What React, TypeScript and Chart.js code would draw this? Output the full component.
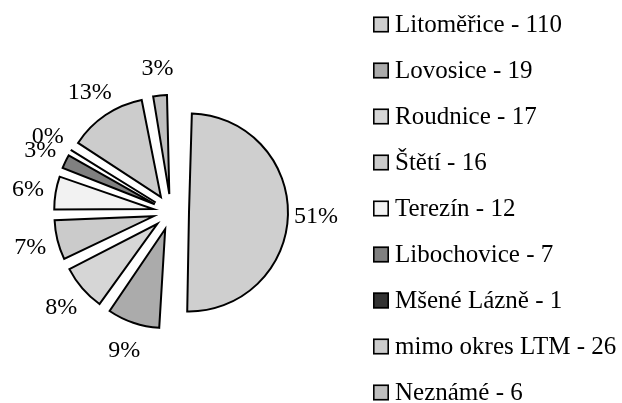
import React, { useEffect, useRef } from "react";
import { Chart, registerables } from "chart.js";

Chart.register(...registerables);

const categories = [
  "Litoměřice",
  "Lovosice",
  "Roudnice",
  "Štětí",
  "Terezín",
  "Libochovice",
  "Mšené Lázně",
  "mimo okres LTM",
  "Neznámé",
];
// counts shown in the legend
const counts = [110, 19, 17, 16, 12, 7, 1, 26, 6];
// slice sizes as drawn in the picture (percent)
const sliceShares = [51, 9, 8, 7, 6, 3, 0.5, 13, 3];
const percentLabels = ["51%", "9%", "8%", "7%", "6%", "3%", "0%", "13%", "3%"];
const sliceColors = [
  "#cfcfcf",
  "#ababab",
  "#d6d6d6",
  "#cbcbcb",
  "#f2f2f2",
  "#808080",
  "#333333",
  "#cccccc",
  "#bfbfbf",
];

const FONT = '"Liberation Serif", "Times New Roman", serif';
const RADIUS = 99;
const OFFSET = 72; // Chart.js translates by offset/4

const equalRadiusPlugin = {
  id: "equalRadius",
  afterDatasetsUpdate(chart: any) {
    const meta = chart.getDatasetMeta(0);
    meta.data.forEach((el: any) => {
      const c = el.circumference;
      const fix = 1 - Math.sin(Math.min(Math.PI, c || 0));
      el.outerRadius = RADIUS - (OFFSET / 4) * fix;
    });
  },
};

const pctLabelPlugin = {
  id: "pctLabels",
  afterDatasetsDraw(chart: any) {
    const ctx = chart.ctx;
    const meta = chart.getDatasetMeta(0);
    ctx.save();
    ctx.font = `24px ${FONT}`;
    ctx.fillStyle = "#000";
    ctx.textAlign = "center";
    ctx.textBaseline = "middle";
    meta.data.forEach((el: any, i: number) => {
      const mid = (el.startAngle + el.endAngle) / 2;
      const cx = el.x + Math.cos(mid) * (OFFSET / 4);
      const cy = el.y + Math.sin(mid) * (OFFSET / 4);
      const dist = RADIUS + 28;
      ctx.fillText(percentLabels[i], cx + Math.cos(mid) * dist, cy + Math.sin(mid) * dist + 1);
    });
    ctx.restore();
  },
};

const sideLegendPlugin = {
  id: "sideLegend",
  afterDraw(chart: any) {
    const ctx = chart.ctx;
    const labels: string[] = chart.data.labels;
    const ds = chart.data.datasets[0];
    const boxX = 373;
    const textX = 395;
    const firstY = 24.5;
    const step = 46;
    const box = 16;
    ctx.save();
    ctx.font = `25px ${FONT}`;
    ctx.textAlign = "left";
    ctx.textBaseline = "middle";
    labels.forEach((lab, i) => {
      const y = firstY + step * i;
      ctx.fillStyle = ds.backgroundColor[i];
      ctx.fillRect(boxX, y - box / 2, box, box);
      ctx.lineWidth = 1.6;
      ctx.strokeStyle = "#000";
      ctx.strokeRect(boxX + 0.8, y - box / 2 + 0.8, box - 1.6, box - 1.6);
      ctx.fillStyle = "#000";
      ctx.fillText(`${lab} - ${counts[i]}`, textX, y + 1);
    });
    ctx.restore();
  },
};

export default function App() {
  const canvasRef = useRef<HTMLCanvasElement | null>(null);

  useEffect(() => {
    document.body.style.margin = "0";
    const canvas = canvasRef.current;
    if (!canvas) return;
    const chart = new Chart(canvas, {
      type: "pie",
      data: {
        labels: categories,
        datasets: [
          {
            data: sliceShares,
            backgroundColor: sliceColors,
            borderColor: "#000000",
            borderWidth: 2,
            borderJoinStyle: "miter",
            offset: OFFSET,
          } as any,
        ],
      },
      options: {
        responsive: false,
        animation: false,
        radius: RADIUS,
        layout: { padding: { left: 0, right: 280, top: 21, bottom: 0 } },
        plugins: {
          legend: { display: false },
          tooltip: { enabled: false },
          title: { display: false },
        },
      } as any,
      plugins: [equalRadiusPlugin, pctLabelPlugin, sideLegendPlugin],
    });
    return () => chart.destroy();
  }, []);

  return (
    <div style={{ position: "absolute", left: 0, top: 0, width: 622, height: 403, background: "#fff" }}>
      <canvas ref={canvasRef} width={622} height={403} />
    </div>
  );
}
